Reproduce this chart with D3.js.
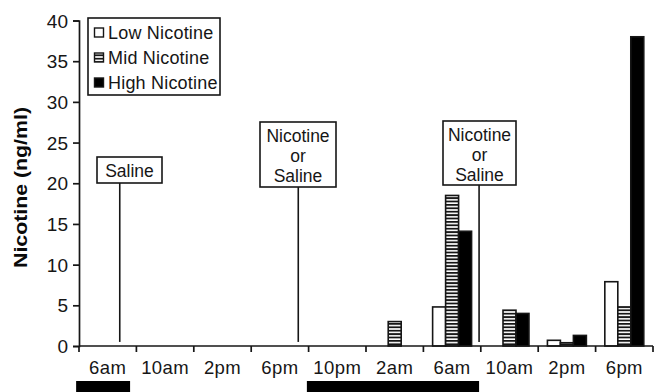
<!DOCTYPE html>
<html>
<head>
<meta charset="utf-8">
<script src="https://cdn.jsdelivr.net/npm/d3@7/dist/d3.min.js"></script>
<style>
  html, body { margin: 0; padding: 0; background: #fff; }
  svg { display: block; font-family: "Liberation Sans", Arial, Helvetica, sans-serif; }
</style>
</head>
<body>
<svg id="chart" width="655" height="392"></svg>
<script>
// Sampling times (4-hour bins across the session)
const timeLabels = ["6am", "10am", "2pm", "6pm", "10pm", "2am", "6am", "10am", "2pm", "6pm"];
const seriesNames = ["Low Nicotine", "Mid Nicotine", "High Nicotine"];
// Plasma nicotine (ng/ml) per time point
const lowNicotine  = [0, 0, 0, 0, 0, 0, 4.8, 0, 0.7, 7.9];
const midNicotine  = [0, 0, 0, 0, 0, 3.0, 18.5, 4.4, 0.4, 4.8];
const highNicotine = [0, 0, 0, 0, 0, 0, 14.1, 4.0, 1.3, 38.0];
const yTicks = [0, 5, 10, 15, 20, 25, 30, 35, 40];
// Injection events, positioned in time-bin units
const injectionLabels = [["Saline"], ["Nicotine", "or", "Saline"], ["Nicotine", "or", "Saline"]];
const injectionTimes = [0.71, 3.82, 6.97];
// Dark phases of the light cycle, in time-bin units
const darkStart = [-0.05, 3.97];
const darkEnd   = [0.89, 6.97];

const svg = d3.select("#chart");
const x0 = 79, x1 = 653, yBase = 346, yTop = 20.5;
const ink = "#161616";

const x = d3.scaleBand().domain(d3.range(timeLabels.length)).range([x0, x1]).padding(0);
const xs = d3.scaleBand().domain(seriesNames).range([0, x.bandwidth()]).paddingInner(0).paddingOuter(0.71);
const xt = d3.scaleLinear().domain([0, timeLabels.length]).range([x0, x1]);
const y = d3.scaleLinear().domain([0, 40]).range([yBase, yTop]);

// Striped fill for the mid-dose series
const defs = svg.append("defs");
const pat = defs.append("pattern").attr("id", "stripes")
  .attr("patternUnits", "userSpaceOnUse").attr("width", 8).attr("height", 3.4);
pat.append("rect").attr("width", 8).attr("height", 3.4).attr("fill", "#fff");
pat.append("rect").attr("y", 0).attr("width", 8).attr("height", 1.8).attr("fill", ink);

const fills = { "Low Nicotine": "#fff", "Mid Nicotine": "url(#stripes)", "High Nicotine": "#000" };
const values = [lowNicotine, midNicotine, highNicotine];

// Bars
seriesNames.forEach((name, si) => {
  svg.append("g").selectAll("rect")
    .data(values[si].map((v, i) => ({ i, v })).filter(d => d.v > 0))
    .join("rect")
    .attr("x", d => x(d.i) + xs(name))
    .attr("y", d => y(d.v))
    .attr("width", xs.bandwidth())
    .attr("height", d => y(0) - y(d.v))
    .attr("fill", fills[name])
    .attr("stroke", ink)
    .attr("stroke-width", 1.6);
});

// Y axis
const yAxis = svg.append("g").attr("transform", `translate(${x0},0)`)
  .call(d3.axisLeft(y).tickValues(yTicks).tickSize(6).tickPadding(5));
yAxis.attr("font-family", null).attr("font-size", null);
yAxis.select(".domain").attr("stroke", ink).attr("stroke-width", 1.7);
yAxis.selectAll(".tick line").attr("stroke", ink).attr("stroke-width", 1.7);
yAxis.selectAll("text").attr("font-size", 19).attr("fill", ink).attr("dy", "0.35em");

// X axis: ticks at bin boundaries, labels centred in bins
const xAxis = svg.append("g").attr("transform", `translate(0,${yBase})`);
xAxis.append("line").attr("x1", x0).attr("x2", x1).attr("stroke", ink).attr("stroke-width", 1.7);
xAxis.selectAll("line.tk").data(d3.range(timeLabels.length + 1)).join("line")
  .attr("class", "tk")
  .attr("x1", d => xt(d)).attr("x2", d => xt(d)).attr("y1", 0).attr("y2", 6)
  .attr("stroke", ink).attr("stroke-width", 1.7);
xAxis.selectAll("text").data(timeLabels).join("text")
  .attr("x", (d, i) => x(i) + x.bandwidth() / 2)
  .attr("y", 28)
  .attr("text-anchor", "middle")
  .attr("font-size", 18.5)
  .attr("letter-spacing", 0.4)
  .attr("fill", ink)
  .text(d => d);

// Y axis title
svg.append("text")
  .attr("transform", "translate(27,187.5) rotate(-90)")
  .attr("text-anchor", "middle")
  .attr("font-size", 18.5)
  .attr("font-weight", "bold")
  .attr("textLength", 161)
  .attr("lengthAdjust", "spacingAndGlyphs")
  .attr("fill", "#0a0a0a")
  .text("Nicotine (ng/ml)");

// Injection markers
const boxes = [
  { left: 97, top: 157, w: 65, h: 26 },
  { left: 260, top: 122, w: 76, h: 65 },
  { left: 443, top: 121, w: 73, h: 64 }
];
injectionLabels.forEach((lines, k) => {
  const b = boxes[k];
  const g = svg.append("g");
  g.append("line")
    .attr("x1", xt(injectionTimes[k])).attr("x2", xt(injectionTimes[k]))
    .attr("y1", b.top + b.h).attr("y2", y(0.5))
    .attr("stroke", ink).attr("stroke-width", 1.6);
  g.append("rect").attr("x", b.left).attr("y", b.top).attr("width", b.w).attr("height", b.h)
    .attr("fill", "#fff").attr("stroke", ink).attr("stroke-width", 1.6);
  lines.forEach((t, j) => {
    g.append("text")
      .attr("x", b.left + b.w / 2)
      .attr("y", b.top + 20 + j * 20)
      .attr("text-anchor", "middle")
      .attr("font-size", 17.5)
      .attr("fill", ink)
      .text(t);
  });
});

// Legend
const lg = svg.append("g");
lg.append("rect").attr("x", 88).attr("y", 18).attr("width", 132).attr("height", 77)
  .attr("fill", "#fff").attr("stroke", ink).attr("stroke-width", 1.6);
seriesNames.forEach((name, i) => {
  const by = 39 + i * 25;
  lg.append("rect").attr("x", 94.5).attr("y", by - 11).attr("width", 9).attr("height", 9)
    .attr("fill", fills[name]).attr("stroke", ink).attr("stroke-width", 1.4);
  lg.append("text").attr("x", 108).attr("y", by)
    .attr("font-size", 18).attr("letter-spacing", 0.2).attr("fill", ink).text(name);
});

// Dark-phase bars beneath the time axis
svg.append("g").selectAll("rect").data(darkStart.map((s, i) => [s, darkEnd[i]])).join("rect")
  .attr("x", d => xt(d[0]))
  .attr("width", d => xt(d[1]) - xt(d[0]))
  .attr("y", 381).attr("height", 11)
  .attr("fill", "#000");
</script>
</body>
</html>
